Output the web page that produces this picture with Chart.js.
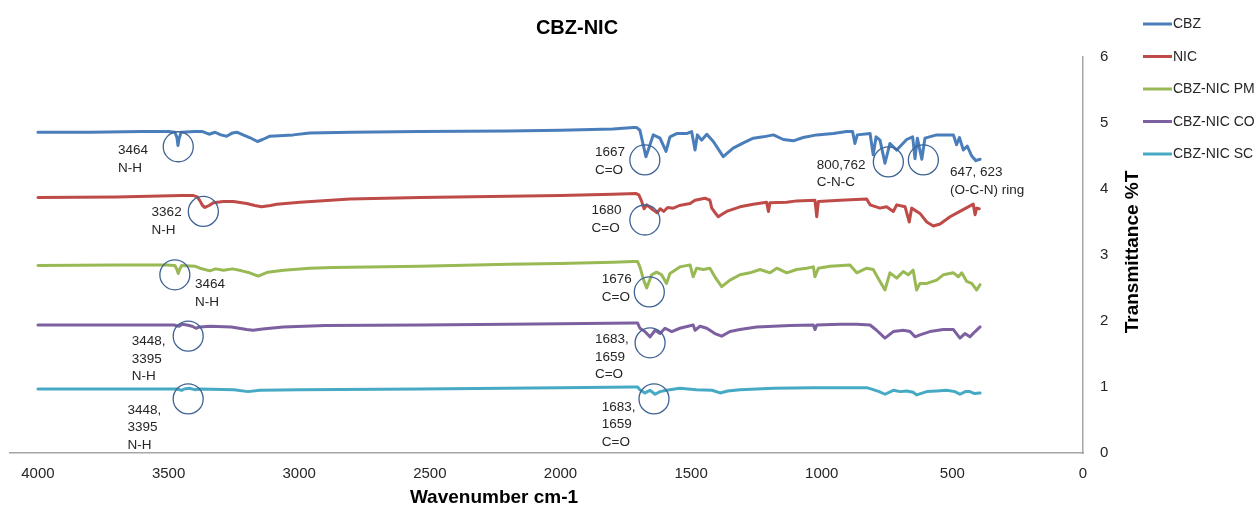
<!DOCTYPE html>
<html>
<head>
<meta charset="utf-8">
<title>CBZ-NIC</title>
<script src="https://cdn.jsdelivr.net/npm/chart.js@4.4.1/dist/chart.umd.min.js"></script>
<style>
  html, body { margin: 0; padding: 0; background: #ffffff; }
  #wrap { width: 1258px; height: 509px; position: relative; }
</style>
</head>
<body>
<div id="wrap"><canvas id="ftir" width="1258" height="509"></canvas></div>
<script>
// ---- FTIR spectra (wavenumber in cm-1, transmittance offset per sample) ----
const seriesNames = ['CBZ', 'NIC', 'CBZ-NIC PM', 'CBZ-NIC CO', 'CBZ-NIC SC'];

const cbzWavenumber = [4000, 3800, 3600, 3500, 3476, 3468, 3464, 3460, 3452, 3400, 3370, 3345, 3322, 3300, 3278, 3255, 3239, 3215, 3190, 3160, 3140, 3112, 3060, 3023, 2960, 2800, 2538, 2200, 2000, 1800, 1720,
  1708, 1696, 1673, 1664, 1645, 1619, 1596, 1581, 1555, 1517, 1498, 1485, 1476, 1460, 1440, 1415, 1377, 1339, 1300, 1262, 1224, 1185, 1147, 1109, 1071, 1019, 956, 905, 882, 873, 864, 815, 803, 792, 777, 758, 739, 713, 675, 652, 643, 634, 617, 605, 560, 496, 484, 473, 458, 443, 426, 410, 394];
const cbzTransmittance = [4.86, 4.86, 4.87, 4.87, 4.86, 4.78, 4.66, 4.76, 4.86, 4.87, 4.87, 4.83, 4.86, 4.82, 4.80, 4.85, 4.86, 4.82, 4.78, 4.72, 4.75, 4.80, 4.81, 4.82, 4.85, 4.86, 4.87, 4.88, 4.89, 4.91, 4.93,
  4.93, 4.89, 4.49, 4.59, 4.82, 4.77, 4.57, 4.79, 4.84, 4.84, 4.87, 4.59, 4.82, 4.74, 4.83, 4.72, 4.49, 4.62, 4.70, 4.77, 4.79, 4.82, 4.75, 4.73, 4.78, 4.82, 4.84, 4.87, 4.87, 4.69, 4.82, 4.84, 4.52, 4.79, 4.74, 4.39, 4.69, 4.59, 4.75, 4.79, 4.46, 4.77, 4.45, 4.77, 4.82, 4.82, 4.67, 4.78, 4.59, 4.65, 4.50, 4.43, 4.45];

const nicWavenumber = [4000, 3700, 3450, 3405, 3390, 3380, 3370, 3361, 3345, 3329, 3290, 3252, 3201, 3170, 3144, 3110, 3086, 2997, 2806, 2538, 2200, 2000, 1800, 1710,
  1700, 1690, 1680, 1670, 1660, 1645, 1630, 1618, 1605, 1590, 1568, 1545, 1530, 1504, 1485, 1447, 1428, 1421, 1408, 1396, 1380, 1364, 1313, 1262, 1211, 1204, 1198, 1134, 1096, 1026, 1019, 1013, 930, 828, 815, 777, 752, 726, 713, 681, 665, 656, 624, 598, 573, 547, 509, 471, 420, 413, 407, 397];
const nicTransmittance = [3.87, 3.88, 3.90, 3.90, 3.88, 3.82, 3.75, 3.72, 3.75, 3.79, 3.81, 3.81, 3.78, 3.75, 3.73, 3.75, 3.77, 3.80, 3.85, 3.87, 3.89, 3.90, 3.92, 3.93,
  3.91, 3.82, 3.70, 3.76, 3.73, 3.68, 3.64, 3.70, 3.66, 3.72, 3.71, 3.75, 3.76, 3.78, 3.83, 3.86, 3.83, 3.71, 3.64, 3.58, 3.62, 3.66, 3.73, 3.77, 3.80, 3.66, 3.79, 3.80, 3.82, 3.83, 3.58, 3.81, 3.83, 3.85, 3.76, 3.71, 3.73, 3.66, 3.76, 3.73, 3.50, 3.71, 3.63, 3.50, 3.44, 3.47, 3.58, 3.66, 3.77, 3.61, 3.71, 3.70];

const pmWavenumber = [4000, 3700, 3508, 3476, 3468, 3463, 3458, 3450, 3400, 3380, 3342, 3320, 3290, 3255, 3220, 3190, 3157, 3120, 3060, 2960, 2871, 2538, 2200, 2000, 1800, 1720,
  1705, 1696, 1680, 1670, 1651, 1632, 1613, 1594, 1581, 1543, 1504, 1492, 1479, 1453, 1428, 1409, 1383, 1351, 1313, 1275, 1236, 1198, 1172, 1134, 1096, 1058, 1032, 1026, 1013, 968, 892, 866, 828, 803, 777, 758, 739, 713, 688, 669, 650, 637, 624, 598, 560, 535, 496, 477, 464, 445, 426, 407, 394];
const pmTransmittance = [2.84, 2.85, 2.85, 2.84, 2.78, 2.72, 2.78, 2.84, 2.83, 2.80, 2.76, 2.79, 2.77, 2.79, 2.76, 2.73, 2.68, 2.74, 2.77, 2.80, 2.81, 2.83, 2.86, 2.87, 2.89, 2.90,
  2.90, 2.82, 2.60, 2.50, 2.70, 2.74, 2.70, 2.57, 2.72, 2.82, 2.85, 2.67, 2.80, 2.78, 2.80, 2.67, 2.52, 2.62, 2.70, 2.73, 2.78, 2.73, 2.80, 2.73, 2.78, 2.80, 2.82, 2.67, 2.80, 2.83, 2.85, 2.73, 2.80, 2.78, 2.60, 2.47, 2.73, 2.65, 2.75, 2.70, 2.77, 2.47, 2.57, 2.57, 2.62, 2.70, 2.73, 2.67, 2.73, 2.60, 2.57, 2.47, 2.55];

const coWavenumber = [4000, 3700, 3480, 3460, 3448, 3430, 3410, 3395, 3380, 3340, 3260, 3201, 3177, 3140, 3062, 2900, 2538, 2200, 2000, 1720,
  1705, 1696, 1677, 1657, 1638, 1619, 1600, 1574, 1543, 1492, 1485, 1466, 1440, 1409, 1383, 1351, 1313, 1249, 1185, 1121, 1032, 1026, 1019, 930, 866, 815, 790, 758, 726, 688, 662, 643, 624, 586, 535, 496, 471, 452, 433, 413, 394];
const coTransmittance = [1.94, 1.94, 1.94, 1.92, 1.95, 1.94, 1.92, 1.89, 1.91, 1.92, 1.91, 1.87, 1.86, 1.88, 1.91, 1.93, 1.94, 1.95, 1.96, 1.97,
  1.97, 1.89, 1.84, 1.76, 1.86, 1.81, 1.89, 1.84, 1.89, 1.94, 1.86, 1.92, 1.89, 1.81, 1.77, 1.84, 1.87, 1.91, 1.92, 1.93, 1.94, 1.87, 1.94, 1.95, 1.95, 1.94, 1.86, 1.74, 1.84, 1.86, 1.84, 1.76, 1.79, 1.84, 1.87, 1.87, 1.74, 1.81, 1.76, 1.84, 1.91];

const scWavenumber = [4000, 3700, 3470, 3450, 3440, 3420, 3400, 3380, 3250, 3196, 3150, 3000, 2538, 2000, 1720,
  1705, 1696, 1677, 1657, 1638, 1619, 1594, 1543, 1479, 1420, 1389, 1360, 1313, 1185, 1032, 930, 828, 803, 780, 758, 726, 700, 675, 650, 637, 598, 560, 522, 490, 471, 450, 433, 415, 394];
const scTransmittance = [0.97, 0.97, 0.97, 0.95, 0.97, 0.98, 0.96, 0.97, 0.96, 0.93, 0.95, 0.96, 0.97, 0.99, 1.00,
  1.00, 0.96, 0.91, 0.95, 0.89, 0.93, 0.95, 0.98, 0.96, 0.95, 0.91, 0.94, 0.96, 0.98, 0.99, 0.99, 0.99, 0.96, 0.93, 0.89, 0.95, 0.93, 0.94, 0.92, 0.88, 0.93, 0.94, 0.95, 0.93, 0.89, 0.93, 0.93, 0.90, 0.91];

// Axis ticks
const xTickValues = [0, 500, 1000, 1500, 2000, 2500, 3000, 3500, 4000];
const yTickValues = [0, 1, 2, 3, 4, 5, 6];

// Peak assignments: circled band and its label, placed in data units
const peakCircles = [
  { wavenumber: 3463, transmittance: 4.64 },
  { wavenumber: 3367, transmittance: 3.66 },
  { wavenumber: 3476, transmittance: 2.70 },
  { wavenumber: 3425, transmittance: 1.77 },
  { wavenumber: 3425, transmittance: 0.82 },
  { wavenumber: 1677, transmittance: 4.44 },
  { wavenumber: 1677, transmittance: 3.53 },
  { wavenumber: 1660, transmittance: 2.44 },
  { wavenumber: 1657, transmittance: 1.67 },
  { wavenumber: 1642, transmittance: 0.82 },
  { wavenumber: 745, transmittance: 4.41 },
  { wavenumber: 611, transmittance: 4.44 }
];
const peakLabels = [
  { lines: ['3464', 'N-H'], wavenumber: 3694, transmittance: 4.58 },
  { lines: ['3362', 'N-H'], wavenumber: 3565, transmittance: 3.64 },
  { lines: ['3464', 'N-H'], wavenumber: 3399, transmittance: 2.55 },
  { lines: ['3448,', '3395', 'N-H'], wavenumber: 3641, transmittance: 1.69 },
  { lines: ['3448,', '3395', 'N-H'], wavenumber: 3657, transmittance: 0.65 },
  { lines: ['1667', 'C=O'], wavenumber: 1868, transmittance: 4.55 },
  { lines: ['1680', 'C=O'], wavenumber: 1881, transmittance: 3.67 },
  { lines: ['1676', 'C=O'], wavenumber: 1842, transmittance: 2.63 },
  { lines: ['1683,', '1659', 'C=O'], wavenumber: 1868, transmittance: 1.72 },
  { lines: ['1683,', '1659', 'C=O'], wavenumber: 1842, transmittance: 0.70 },
  { lines: ['800,762', 'C-N-C'], wavenumber: 1019, transmittance: 4.36 },
  { lines: ['647, 623', '(O-C-N) ring'], wavenumber: 509, transmittance: 4.25 }
];

// ---- styling ----
const FONT = '"Liberation Sans", Arial, Helvetica, sans-serif';
const seriesColors = ['#4a7ebb', '#be4b48', '#98b954', '#7d60a0', '#46aac5'];
const TEXT_COLOR = '#262626';
const AXIS_COLOR = '#a6a6a6';

function toPoints(xs, ys) {
  return xs.map((x, i) => ({ x: x, y: ys[i] }));
}

const seriesData = [
  toPoints(cbzWavenumber, cbzTransmittance),
  toPoints(nicWavenumber, nicTransmittance),
  toPoints(pmWavenumber, pmTransmittance),
  toPoints(coWavenumber, coTransmittance),
  toPoints(scWavenumber, scTransmittance)
];

const datasets = seriesNames.map((name, i) => ({
  label: name,
  data: seriesData[i],
  showLine: true,
  borderColor: seriesColors[i],
  backgroundColor: seriesColors[i],
  borderWidth: 3,
  pointRadius: 0,
  pointHoverRadius: 0,
  tension: 0,
  borderJoinStyle: 'round',
  borderCapStyle: 'round'
}));

// Titles, legend and peak annotations drawn on top of the plot
const decorations = {
  id: 'decorations',
  afterDraw(chart) {
    const ctx = chart.ctx;
    const xs = chart.scales.x;
    const ys = chart.scales.y;
    ctx.save();

    // chart title
    ctx.fillStyle = '#000000';
    ctx.font = 'bold 20px ' + FONT;
    ctx.textAlign = 'center';
    ctx.textBaseline = 'middle';
    ctx.fillText('CBZ-NIC', 577, 28);

    // x axis title
    ctx.font = 'bold 19px ' + FONT;
    ctx.fillText('Wavenumber cm-1', 494, 498);

    // y axis title (rotated)
    ctx.save();
    ctx.translate(1133, 252);
    ctx.rotate(-Math.PI / 2);
    ctx.fillText('Transmittance %T', 0, 0);
    ctx.restore();

    // legend
    ctx.font = '14px ' + FONT;
    ctx.textAlign = 'left';
    ctx.textBaseline = 'middle';
    seriesNames.forEach((name, i) => {
      const y = 24 + i * 32.5;
      ctx.strokeStyle = seriesColors[i];
      ctx.lineWidth = 3;
      ctx.beginPath();
      ctx.moveTo(1143, y);
      ctx.lineTo(1172, y);
      ctx.stroke();
      ctx.fillStyle = TEXT_COLOR;
      ctx.fillText(name, 1173, y + 0.5);
    });

    // circled bands
    ctx.strokeStyle = '#3f6293';
    ctx.lineWidth = 1.3;
    peakCircles.forEach(c => {
      const cx = xs.getPixelForValue(c.wavenumber);
      const cy = ys.getPixelForValue(c.transmittance);
      ctx.beginPath();
      ctx.arc(cx, cy, 15, 0, Math.PI * 2);
      ctx.stroke();
    });

    // band assignments
    ctx.fillStyle = TEXT_COLOR;
    ctx.font = '13.5px ' + FONT;
    peakLabels.forEach(l => {
      const lx = xs.getPixelForValue(l.wavenumber);
      const ly = ys.getPixelForValue(l.transmittance);
      l.lines.forEach((t, k) => ctx.fillText(t, lx, ly + k * 17.5));
    });

    ctx.restore();
  }
};

new Chart(document.getElementById('ftir'), {
  type: 'scatter',
  data: { datasets: datasets },
  options: {
    responsive: false,
    animation: false,
    events: [],
    layout: { padding: { left: 10, right: 115, top: 57, bottom: 16 } },
    plugins: {
      legend: { display: false },
      title: { display: false },
      tooltip: { enabled: false }
    },
    scales: {
      x: {
        type: 'linear',
        reverse: true,
        min: 0,
        max: 4107,
        afterFit(scale) { scale.height = 40; },
        afterBuildTicks(scale) { scale.ticks = xTickValues.map(v => ({ value: v })); },
        grid: { display: false, drawTicks: false },
        border: { display: true, color: AXIS_COLOR, width: 1.5 },
        ticks: {
          includeBounds: false,
          autoSkip: false,
          maxRotation: 0,
          padding: 12,
          color: TEXT_COLOR,
          font: { family: FONT, size: 15 },
          callback: v => String(v)
        }
      },
      y: {
        type: 'linear',
        position: 'right',
        min: 0,
        max: 6,
        afterFit(scale) { scale.width = 60; },
        afterBuildTicks(scale) { scale.ticks = yTickValues.map(v => ({ value: v })); },
        grid: { display: false, drawTicks: false },
        border: { display: true, color: AXIS_COLOR, width: 1.5 },
        ticks: {
          padding: 17,
          color: TEXT_COLOR,
          font: { family: FONT, size: 15 },
          callback: v => String(v)
        }
      }
    }
  },
  plugins: [decorations]
});
</script>
</body>
</html>
